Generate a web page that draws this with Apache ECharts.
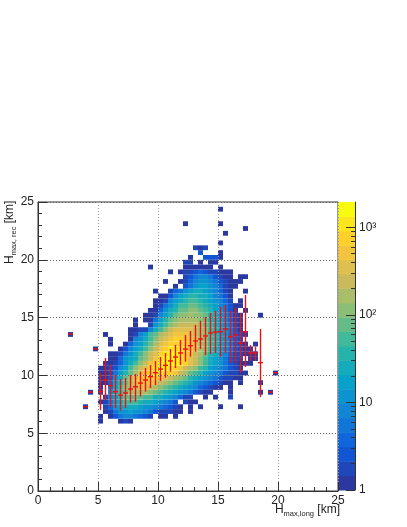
<!DOCTYPE html>
<html>
<head>
<meta charset="utf-8">
<style>
    html, body { margin: 0; padding: 0; background: #fff; }
    #chart { width: 407px; height: 527px; }
</style>
<script src="https://cdn.jsdelivr.net/npm/echarts@6/dist/echarts.min.js"></script>
</head>
<body>
<div id="chart"></div>
<script>
// 60 x 60 bins over 0-25 km on both axes
var binCount = 60;
var axisMax = 25;
var colorMax = 1950;

// one row per y bin: [y bin, first x bin, counts...]
var heatRows = [
    [14, 12, [1, 0, 0, 0, 1, 2, 1]],
    [15, 12, [1, 0, 1, 3, 5, 8, 7, 5, 4, 3, 2, 0, 1, 1, 0, 1]],
    [16, 13, [1, 2, 6, 10, 14, 15, 12, 10, 7, 5, 3, 2, 2, 2, 1, 1, 0, 1]],
    [17, 9, [1, 0, 0, 0, 2, 4, 10, 18, 26, 30, 26, 20, 14, 10, 7, 5, 4, 3, 2, 1, 0, 1, 0, 1, 0, 0, 0, 1, 0, 0, 0, 1]],
    [18, 12, [1, 2, 6, 15, 28, 45, 55, 50, 40, 30, 22, 15, 10, 7, 5, 3, 0, 2, 1, 1]],
    [19, 13, [2, 7, 20, 40, 70, 90, 90, 75, 60, 45, 30, 22, 15, 10, 7, 4, 2, 2, 0, 0, 1, 0, 1, 0, 0, 2]],
    [20, 10, [1, 0, 1, 0, 7, 22, 50, 90, 150, 190, 180, 140, 105, 75, 50, 35, 24, 16, 10, 7, 5, 3, 2, 1, 1, 0, 0, 0, 1, 0, 0, 0, 0, 0, 1, 0, 1]],
    [21, 12, [1, 0, 6, 20, 50, 100, 170, 230, 300, 300, 250, 190, 130, 90, 60, 38, 26, 16, 10, 7, 4, 3, 2, 1, 1, 0, 1]],
    [22, 12, [1, 1, 4, 15, 40, 90, 180, 320, 480, 560, 480, 380, 280, 200, 130, 85, 55, 33, 22, 14, 9, 6, 4, 3, 2, 1, 1, 0, 1, 0, 0, 0, 1]],
    [23, 12, [1, 1, 3, 10, 30, 70, 150, 300, 520, 720, 780, 680, 520, 380, 270, 180, 110, 70, 42, 28, 18, 12, 8, 5, 3, 2, 2, 1, 1]],
    [24, 12, [1, 1, 2, 6, 15, 35, 80, 180, 340, 580, 880, 1100, 1100, 900, 640, 440, 270, 160, 90, 55, 32, 20, 13, 8, 5, 3, 2, 2, 1, 1, 0, 0, 0, 0, 0, 1]],
    [25, 12, [1, 1, 2, 3, 8, 20, 45, 100, 220, 420, 720, 1100, 1500, 1550, 1200, 800, 500, 290, 160, 95, 55, 32, 20, 12, 8, 5, 3, 2, 1]],
    [26, 13, [1, 1, 2, 4, 10, 24, 50, 110, 230, 440, 800, 1350, 1800, 1850, 1500, 1050, 680, 400, 210, 105, 50, 30, 18, 10, 6, 3, 2, 1, 1, 1]],
    [27, 14, [1, 1, 4, 10, 20, 30, 65, 130, 270, 520, 950, 1450, 1850, 1500, 1050, 680, 400, 230, 120, 60, 30, 18, 10, 6, 3, 2, 2, 0, 1, 1]],
    [28, 14, [1, 1, 2, 6, 14, 22, 48, 100, 210, 400, 700, 1050, 1350, 1450, 1050, 720, 460, 270, 150, 75, 40, 22, 12, 7, 4, 2, 2, 1, 1, 1]],
    [29, 11, [1, 0, 0, 0, 0, 1, 3, 9, 16, 30, 60, 130, 260, 470, 730, 1000, 1100, 1000, 750, 520, 330, 180, 95, 50, 28, 15, 9, 5, 3, 2, 1, 1]],
    [30, 14, [1, 0, 0, 1, 4, 10, 18, 40, 85, 170, 320, 500, 680, 800, 800, 680, 500, 340, 200, 105, 58, 32, 18, 10, 6, 3, 2, 1, 0, 1]],
    [31, 14, [1, 0, 0, 0, 1, 7, 14, 30, 62, 125, 240, 390, 540, 650, 660, 590, 460, 320, 190, 110, 60, 34, 20, 11, 6, 3, 2]],
    [32, 6, [1, 0, 0, 0, 0, 0, 0, 1, 0, 0, 0, 0, 1, 2, 8, 20, 45, 90, 170, 290, 410, 500, 530, 490, 400, 290, 180, 110, 62, 35, 20, 11, 6, 3, 2, 1]],
    [33, 18, [1, 1, 2, 2, 8, 28, 62, 120, 210, 300, 370, 390, 340, 250, 160, 100, 58, 33, 19, 10, 5, 3, 1]],
    [34, 19, [1, 0, 0, 2, 10, 28, 62, 115, 190, 260, 290, 280, 220, 150, 90, 52, 30, 17, 9, 5, 2, 1]],
    [35, 19, [1, 0, 1, 1, 6, 16, 36, 65, 110, 165, 200, 200, 170, 120, 75, 44, 26, 15, 8, 4, 2, 1]],
    [36, 21, [1, 1, 2, 7, 20, 40, 68, 100, 135, 150, 135, 100, 65, 38, 22, 13, 7, 4, 2, 1, 0, 0, 0, 1]],
    [37, 22, [1, 1, 4, 10, 24, 44, 68, 90, 105, 100, 78, 52, 32, 19, 11, 6, 3, 1, 0, 1]],
    [38, 23, [1, 2, 6, 14, 28, 45, 62, 72, 70, 56, 40, 26, 16, 9, 5, 3, 1, 1]],
    [39, 23, [1, 1, 2, 7, 16, 28, 40, 50, 50, 42, 30, 20, 12, 7, 4, 2, 0, 1]],
    [40, 24, [1, 1, 3, 8, 15, 25, 32, 35, 30, 22, 15, 9, 5, 3, 1]],
    [41, 23, [1, 0, 0, 2, 4, 6, 14, 20, 24, 22, 16, 11, 7, 4, 2, 1, 0, 0, 1]],
    [42, 27, [1, 0, 3, 6, 12, 16, 15, 11, 7, 4, 2, 1, 1]],
    [43, 25, [1, 0, 0, 1, 2, 4, 8, 12, 12, 9, 6, 3, 2, 1, 1, 1]],
    [44, 29, [2, 3, 5, 7, 7, 5, 3, 2, 1, 1, 0, 1, 1]],
    [45, 26, [1, 0, 1, 2, 2, 3, 4, 3, 2, 2, 1, 1, 1]],
    [46, 22, [1, 0, 0, 0, 0, 0, 0, 1, 1, 1, 1, 1, 1, 0, 1]],
    [47, 29, [2, 2, 0, 1, 0, 1, 1]],
    [48, 30, [1, 0, 0, 3, 3, 3, 1]],
    [49, 32, [3, 0, 0, 0, 1]],
    [50, 31, [2, 1, 2]],
    [51, 36, [1]],
    [53, 37, [1]],
    [54, 41, [1]],
    [55, 29, [1, 0, 0, 0, 0, 0, 0, 1]],
    [58, 36, [1]]
];

// red profile, one entry per x bin
var profileBin = [6, 9, 10, 11, 12, 13, 14, 15, 16, 17, 18, 19, 20, 21, 22, 23, 24, 25, 26, 27, 28, 29,
    30, 31, 32, 33, 34, 35, 36, 37, 38, 39, 40, 41, 42, 43, 44, 46, 47];
var profileMean = [13.58, 7.29, 8.56, 12.28, 8.59, 9.60, 9.11, 8.59, 8.30, 8.48, 8.82, 9.02, 9.34, 9.60, 9.89, 10.23, 10.55, 10.87, 11.25, 11.59, 11.94, 12.28,
    12.57, 12.98, 13.15, 13.41, 13.67, 13.75, 13.78, 14.01, 13.35, 13.49, 12.80, 13.78, 11.94, 11.94, 11.10, 8.56, 10.23];
var profileLow = [13.58, 7.29, 8.56, 12.28, 7.01, 7.87, 7.27, 7.18, 6.95, 7.18, 7.64, 7.72, 8.16, 8.59, 8.91, 9.17, 9.52, 9.80, 10.32, 10.64, 10.90, 11.19,
    11.62, 12.05, 12.28, 11.76, 11.85, 11.94, 11.62, 11.94, 11.07, 11.10, 10.23, 10.73, 11.27, 11.27, 8.13, 8.56, 10.23];
var profileHigh = [13.58, 7.29, 8.56, 12.28, 10.21, 11.51, 10.90, 10.03, 9.69, 9.78, 10.03, 10.12, 10.32, 10.64, 10.90, 11.25, 11.59, 11.94, 12.28, 12.63, 13.06, 13.49,
    13.84, 14.36, 14.73, 15.05, 15.42, 15.57, 15.92, 16.09, 15.60, 15.83, 15.40, 16.96, 12.63, 12.48, 14.01, 8.56, 10.23];

var colorMajorTicks = [1, 10, 100, 1000];
var colorMinorTicks = [2, 3, 4, 5, 6, 7, 8, 9, 20, 30, 40, 50, 60, 70, 80, 90, 200, 300, 400, 500, 600, 700, 800, 900];
var colorLabels = ['1', '10', '10²', '10³'];

// ROOT kBird palette, 20 contour bands
var birdStops = ['#2a38a0', '#0f5cdd', '#1481d6', '#06a4ca', '#2eb7a4', '#87bf77', '#d1bb59', '#fec832', '#f9fb0e'];
var bandCount = 20;

function bandColor(band) {
    return echarts.color.lerp(band / (bandCount - 1), birdStops);
}

function countColor(count) {
    var band = Math.floor(Math.log10(count) / Math.log10(colorMax) * bandCount);
    return bandColor(Math.min(band, bandCount - 1));
}

var binWidth = axisMax / binCount;
var heatData = [];
heatRows.forEach(function (row) {
    row[2].forEach(function (count, index) {
        if (count > 0) {
            heatData.push([(row[1] + index) * binWidth, row[0] * binWidth, count]);
        }
    });
});

var profileData = profileBin.map(function (bin, index) {
    return [(bin + 0.5) * binWidth, profileMean[index], profileLow[index], profileHigh[index]];
});

var bandData = [];
for (var b = 0; b < bandCount; b++) {
    bandData.push([b, Math.pow(colorMax, b / bandCount), Math.pow(colorMax, (b + 1) / bandCount)]);
}

var textColor = '#222';
var fontName = '"Liberation Sans", Arial, sans-serif';

function mainAxis(gridColor, labelMargin) {
    return {
        type: 'value',
        min: 0,
        max: axisMax,
        interval: 5,
        z: 3,
        axisLine: {show: true, onZero: false, lineStyle: {color: '#333', width: 1}},
        axisTick: {show: true, inside: true, length: 9, lineStyle: {color: '#333', width: 1}},
        minorTick: {show: true, splitNumber: 5, length: 4, lineStyle: {color: '#333', width: 1}},
        splitLine: {show: true, lineStyle: {color: gridColor, width: 1, type: [1, 2]}},
        axisLabel: {color: textColor, fontFamily: fontName, fontSize: 12, margin: labelMargin, showMaxLabel: true, showMinLabel: true}
    };
}

function titleRich() {
    return {
        a: {fontSize: 12, fontFamily: fontName, fill: textColor, lineHeight: 14, verticalAlign: 'top'},
        b: {fontSize: 7.5, fontFamily: fontName, fill: textColor, lineHeight: 14, verticalAlign: 'bottom', padding: [5, 0, 0, 0]}
    };
}

var chart = echarts.init(document.getElementById('chart'), null, {renderer: 'canvas'});
chart.setOption({
    animation: false,
    backgroundColor: '#fff',
    grid: [
        {left: 38, top: 202, width: 300, height: 289, show: true, borderColor: '#333', borderWidth: 1},
        {left: 338, top: 202, width: 17, height: 288}
    ],
    xAxis: [
        mainAxis('#999', 4),
        {gridIndex: 1, type: 'value', min: 0, max: 1, show: false}
    ],
    yAxis: [
        mainAxis('#666', 4),
        {
            gridIndex: 1, type: 'log', min: 1, max: colorMax, position: 'right', z: 3,
            axisLine: {show: true, onZero: false, lineStyle: {color: '#333', width: 1}},
            axisTick: {show: true, inside: true, length: 9, customValues: colorMajorTicks, lineStyle: {color: '#333', width: 1}},
            minorTick: {show: false},
            splitLine: {show: false},
            axisLabel: {
                color: textColor, fontFamily: fontName, fontSize: 12, margin: 4,
                customValues: colorMajorTicks,
                formatter: function (value) {
                    return colorLabels[colorMajorTicks.indexOf(Math.round(value))];
                }
            }
        },
        {
            gridIndex: 1, type: 'log', min: 1, max: colorMax, position: 'right', z: 3,
            axisLine: {show: false, onZero: false},
            axisTick: {show: true, inside: true, length: 4, customValues: colorMinorTicks, lineStyle: {color: '#333', width: 1}},
            splitLine: {show: false},
            axisLabel: {show: false}
        }
    ],
    series: [
        {
            name: 'cells',
            type: 'custom',
            xAxisIndex: 0,
            yAxisIndex: 0,
            z: 2,
            silent: true,
            clip: true,
            data: heatData,
            renderItem: function (params, api) {
                var p0 = api.coord([api.value(0), api.value(1)]);
                var p1 = api.coord([api.value(0) + binWidth, api.value(1) + binWidth]);
                return {
                    type: 'rect',
                    shape: {x: p0[0], y: p1[1], width: p1[0] - p0[0], height: p0[1] - p1[1]},
                    style: {fill: countColor(api.value(2)), stroke: null}
                };
            }
        },
        {
            name: 'profile',
            type: 'custom',
            xAxisIndex: 0,
            yAxisIndex: 0,
            z: 5,
            silent: true,
            data: profileData,
            renderItem: function (params, api) {
                var x = api.value(0);
                var mid = api.coord([x, api.value(1)]);
                var low = api.coord([x, api.value(2)]);
                var high = api.coord([x, api.value(3)]);
                var left = api.coord([x - binWidth / 2, api.value(1)]);
                var right = api.coord([x + binWidth / 2, api.value(1)]);
                var redStyle = {stroke: '#ee1111', lineWidth: 1.4, fill: null};
                return {
                    type: 'group',
                    children: [
                        {type: 'line', shape: {x1: low[0], y1: low[1], x2: high[0], y2: high[1]}, style: redStyle},
                        {type: 'line', shape: {x1: left[0], y1: mid[1], x2: right[0], y2: mid[1]}, style: redStyle}
                    ]
                };
            }
        },
        {
            name: 'palette',
            type: 'custom',
            xAxisIndex: 1,
            yAxisIndex: 1,
            z: 2,
            silent: true,
            data: bandData,
            renderItem: function (params, api) {
                var p0 = api.coord([0, api.value(1)]);
                var p1 = api.coord([1, api.value(2)]);
                return {
                    type: 'rect',
                    shape: {x: p0[0], y: p1[1], width: p1[0] - p0[0], height: p0[1] - p1[1] + 0.5},
                    style: {fill: bandColor(api.value(0)), stroke: null}
                };
            }
        }
    ],
    graphic: [
        {
            type: 'text',
            right: 67,
            top: 504,
            style: {text: '{a|H}{b|max,long}{a| [km]}', rich: titleRich()}
        },
        {
            type: 'text',
            x: 4,
            y: 264,
            rotation: Math.PI / 2,
            style: {text: '{a|H}{b|max, rec}{a| [km]}', rich: titleRich()}
        }
    ]
});
</script>
</body>
</html>
